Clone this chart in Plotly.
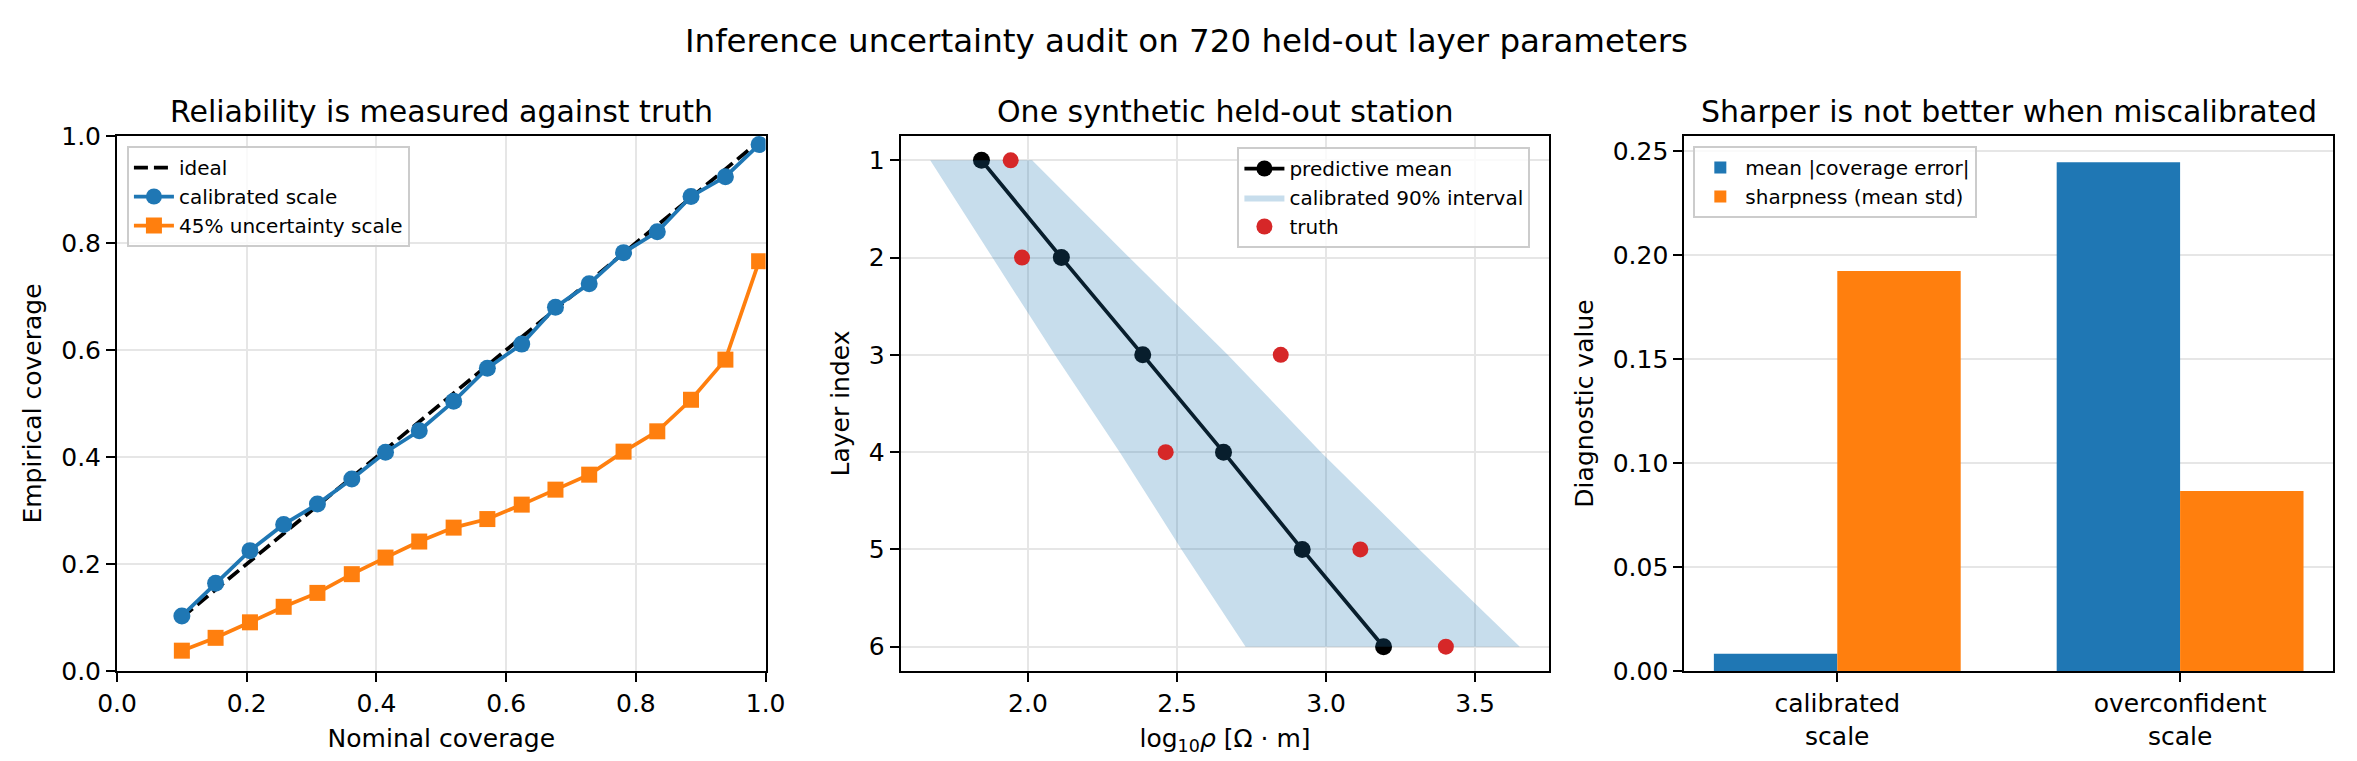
import plotly.graph_objects as go

# reliability panel
nominal = [0.100, 0.152, 0.205, 0.257, 0.309, 0.362, 0.414, 0.466, 0.519,
           0.571, 0.624, 0.676, 0.728, 0.781, 0.833, 0.885, 0.938, 0.990]
cov_calibrated = [0.103, 0.164, 0.225, 0.274, 0.312, 0.359, 0.409, 0.449, 0.504,
                  0.566, 0.611, 0.680, 0.724, 0.782, 0.821, 0.887, 0.924, 0.984]
cov_45 = [0.038, 0.062, 0.091, 0.120, 0.146, 0.181, 0.212, 0.242, 0.268,
          0.284, 0.311, 0.339, 0.367, 0.410, 0.448, 0.507, 0.582, 0.766]

# held-out station
layers = [1, 2, 3, 4, 5, 6]
pred_mean = [1.844, 2.112, 2.385, 2.656, 2.920, 3.193]
lower90 = [1.672, 1.880, 2.090, 2.308, 2.515, 2.730]
upper90 = [2.014, 2.340, 2.670, 2.983, 3.313, 3.650]
truth = [1.942, 1.980, 2.848, 2.462, 3.115, 3.402]

# diagnostics
scales = ["calibrated<br>scale", "overconfident<br>scale"]
cov_error = [0.0083, 0.2445]
sharpness = [0.1922, 0.0865]

C0, C1, RED = "#1f77b4", "#ff7f0e", "#d62728"
FONT = "DejaVu Sans"
W, H = 2357, 761
ML, MR, MT, MB = 109, 17, 128, 98
pw = W - ML - MR
ph = H - MT - MB


def dom(a, b):
    return [(a - ML) / pw, (b - ML) / pw]


fig = go.Figure()

# --- left
fig.add_trace(go.Scatter(x=nominal, y=nominal, mode="lines", name="ideal",
                         line=dict(color="black", width=3.75, dash="14px,6px"),
                         xaxis="x", yaxis="y", legend="legend"))
fig.add_trace(go.Scatter(x=nominal, y=cov_calibrated, mode="lines+markers", name="calibrated scale",
                         line=dict(color=C0, width=3.75), marker=dict(size=17, color=C0),
                         xaxis="x", yaxis="y", legend="legend"))
fig.add_trace(go.Scatter(x=nominal, y=cov_45, mode="lines+markers", name="45% uncertainty scale",
                         line=dict(color=C1, width=3.75), marker=dict(size=16, color=C1, symbol="square"),
                         xaxis="x", yaxis="y", legend="legend"))

# --- middle
fig.add_trace(go.Scatter(x=pred_mean, y=layers, mode="lines+markers", name="predictive mean",
                         line=dict(color="black", width=3.75), marker=dict(size=17, color="black"),
                         xaxis="x2", yaxis="y2", legend="legend2"))
fig.add_trace(go.Scatter(x=lower90 + upper90[::-1], y=layers + layers[::-1], mode="lines",
                         fill="toself", fillcolor="rgba(31,119,180,0.25)", line=dict(width=0),
                         name="calibrated 90% interval", xaxis="x2", yaxis="y2", legend="legend2"))
fig.add_trace(go.Scatter(x=truth, y=layers, mode="markers", name="truth",
                         marker=dict(size=16, color=RED),
                         xaxis="x2", yaxis="y2", legend="legend2"))

# --- right
fig.add_trace(go.Bar(x=scales, y=cov_error, name="mean |coverage error|", marker_color=C0,
                     marker_line_width=0, xaxis="x3", yaxis="y3", legend="legend3"))
fig.add_trace(go.Bar(x=scales, y=sharpness, name="sharpness (mean std)", marker_color=C1,
                     marker_line_width=0, xaxis="x3", yaxis="y3", legend="legend3"))

ax = dict(showline=True, linecolor="black", linewidth=2, mirror=True,
          ticks="outside", ticklen=9, tickwidth=2, tickcolor="black",
          showgrid=True, gridcolor="#e6e6e6", gridwidth=2, zeroline=False,
          tickfont=dict(size=25, color="black"),
          title_font=dict(size=25, color="black"))

fig.update_layout(
    width=W, height=H,
    margin=dict(l=ML, r=MR, t=MT, b=MB),
    paper_bgcolor="white", plot_bgcolor="white",
    font=dict(family=FONT, color="black"),
    showlegend=True,
    barmode="group", bargap=0.28, bargroupgap=0,
    title=dict(text="Inference uncertainty audit on 720 held-out layer parameters",
               x=0.5, xanchor="center", y=1 - 33 / H, yanchor="middle",
               font=dict(size=32.5, color="black")),
    xaxis=dict(ax, domain=dom(109, 762), range=[0, 1], dtick=0.2, tickformat=".1f",
               title=dict(text="Nominal coverage", standoff=12)),
    yaxis=dict(ax, range=[0, 1], dtick=0.2, tickformat=".1f",
               title=dict(text="Empirical coverage", standoff=12)),
    xaxis2=dict(ax, domain=dom(898, 1551), range=[1.573, 3.749], tickvals=[2.0, 2.5, 3.0, 3.5],
                tickformat=".1f", anchor="y2",
                title=dict(text="log<sub>10</sub><i>ρ</i> [Ω · m]", standoff=12)),
    yaxis2=dict(ax, range=[6.25, 0.75], dtick=1, anchor="x2",
                title=dict(text="Layer index", standoff=12)),
    xaxis3=dict(ax, domain=dom(1687, 2340), range=[-0.446, 1.446], showgrid=False, anchor="y3"),
    yaxis3=dict(ax, range=[0, 0.2571], dtick=0.05, tickformat=".2f", anchor="x3",
                title=dict(text="Diagnostic value", standoff=12)),
)

leg = dict(bgcolor="rgba(255,255,255,0.8)", bordercolor="#cccccc", borderwidth=2,
           font=dict(size=20, color="black"), xanchor="left", yanchor="top",
           itemwidth=40, tracegroupgap=0)
fig.update_layout(
    legend=dict(leg, x=dom(119, 120)[0], y=1 - 10 / ph),
    legend2=dict(leg, x=dom(1237, 1238)[0], y=1 - 11 / ph),
    legend3=dict(leg, x=dom(1696, 1697)[0], y=1 - 10 / ph),
)

panel_titles = ["Reliability is measured against truth",
                "One synthetic held-out station",
                "Sharper is not better when miscalibrated"]
for t, (a, b) in zip(panel_titles, [(109, 762), (898, 1551), (1687, 2340)]):
    d = dom(a, b)
    fig.add_annotation(text=t, xref="paper", yref="paper", x=(d[0] + d[1]) / 2,
                       y=1 + (MT - 104) / ph, xanchor="center", yanchor="middle",
                       showarrow=False, font=dict(size=30, color="black"))

fig.write_html("out.html")
